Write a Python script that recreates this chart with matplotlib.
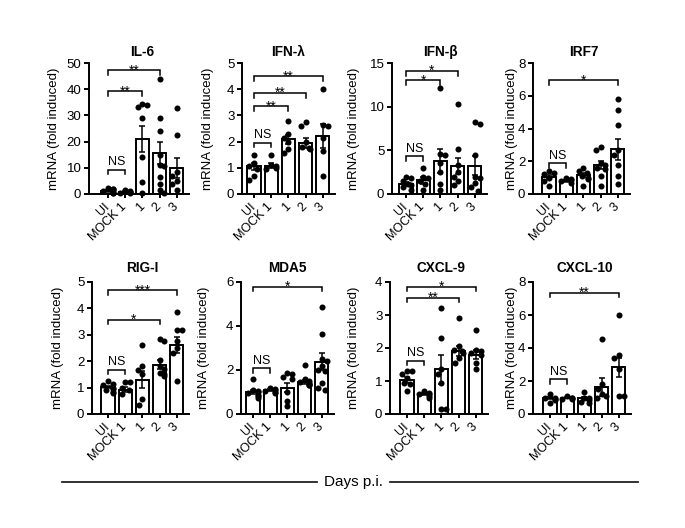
import numpy as np
import matplotlib
matplotlib.use("Agg")
import matplotlib.pyplot as plt
from matplotlib.lines import Line2D

plt.rcParams['font.family'] = ['Liberation Sans', 'DejaVu Sans']

categories = ["UI", "MOCK 1", "1", "2", "3"]

# ---------------- data ----------------
il6_mean = [1.1, 0.8, 21.0, 15.6, 9.8]
il6_sem = [0.35, 0.2, 5.0, 4.3, 3.8]
il6_points = [[2.2, 2.0, 1.8, 1.5, 1.0, 0.8, 0.5, 0.2],
              [1.5, 1.0, 0.8, 0.6, 0.4, 0.5],
              [34.5, 33.8, 33.2, 29.0, 14.3, 4.7, 0.2],
              [43.9, 29.0, 23.9, 14.9, 11.1, 10.5, 6.6, 4.0, 1.5, 0.5],
              [33.0, 22.6, 8.5, 7.0, 5.0, 3.8, 1.5]]
il6_ticks = [0, 10, 20, 30, 40, 50]
il6_sig = [(0, 1, 9.2, "NS"), (0, 2, 39.2, "**"), (0, 3, 47.2, "**")]

ifnl_mean = [1.05, 1.08, 2.09, 1.94, 2.22]
ifnl_sem = [0.12, 0.1, 0.18, 0.2, 0.45]
ifnl_points = [[1.5, 1.2, 1.05, 0.95, 0.7, 0.55],
               [1.5, 1.1, 1.05, 1.0, 0.95],
               [2.8, 2.3, 2.15, 2.0, 1.7, 1.55],
               [2.75, 2.6, 2.0, 1.8, 1.7, 1.75],
               [4.0, 2.65, 2.6, 2.15, 1.65, 0.7]]
ifnl_ticks = [0, 1, 2, 3, 4, 5]
ifnl_sig = [(0, 1, 1.96, "NS"), (0, 2, 3.34, "**"), (0, 3, 3.85, "**"), (0, 4, 4.49, "**")]

ifnb_mean = [1.15, 1.6, 3.8, 3.2, 3.25]
ifnb_sem = [0.25, 0.4, 1.4, 0.9, 1.05]
ifnb_points = [[2.0, 1.8, 1.5, 1.2, 1.0, 0.8, 0.5],
               [3.0, 2.0, 1.8, 1.5, 1.2, 0.5],
               [12.1, 4.6, 4.5, 3.5, 2.5, 1.2, 0.5],
               [10.3, 5.1, 3.3, 2.5, 2.0, 1.5, 1.0],
               [8.3, 8.0, 4.5, 2.0, 1.8, 1.3, 0.8, 0.4]]
ifnb_ticks = [0, 5, 10, 15]
ifnb_sig = [(0, 1, 4.3, "NS"), (0, 2, 13.0, "*"), (0, 3, 14.06, "*")]

irf7_mean = [1.06, 0.82, 1.16, 1.78, 2.73]
irf7_sem = [0.12, 0.06, 0.12, 0.25, 0.65]
irf7_points = [[1.4, 1.3, 1.2, 1.0, 0.8, 0.5],
               [1.0, 0.9, 0.85, 0.8, 0.7],
               [1.6, 1.4, 1.3, 1.1, 1.0, 0.9, 0.5],
               [2.9, 2.7, 1.9, 1.8, 1.6, 1.5, 1.1, 0.5],
               [5.8, 5.1, 4.2, 2.7, 2.4, 1.8, 1.1, 0.6]]
irf7_ticks = [0, 2, 4, 6, 8]
irf7_sig = [(0, 1, 1.88, "NS"), (0, 4, 6.94, "*")]

rigi_mean = [1.02, 0.92, 1.3, 1.87, 2.6]
rigi_sem = [0.05, 0.09, 0.33, 0.17, 0.3]
rigi_points = [[1.25, 1.15, 1.1, 1.0, 0.95, 0.9, 0.85, 0.8],
               [1.2, 1.2, 1.0, 0.9, 0.75],
               [2.6, 1.8, 1.65, 1.5, 0.55, 0.35],
               [2.85, 2.75, 2.05, 1.8, 1.7, 1.55, 1.5, 1.45],
               [3.85, 3.2, 3.2, 2.75, 2.5, 2.3, 1.25]]
rigi_ticks = [0, 1, 2, 3, 4, 5]
rigi_sig = [(0, 1, 1.68, "NS"), (0, 3, 3.57, "*"), (0, 4, 4.68, "***")]

mda5_mean = [1.0, 1.1, 1.2, 1.45, 2.38]
mda5_sem = [0.09, 0.04, 0.22, 0.1, 0.4]
mda5_points = [[1.6, 1.1, 1.05, 1.0, 0.95, 0.85, 0.8, 0.75],
               [1.2, 1.15, 1.1, 1.05, 1.0, 0.95],
               [1.85, 1.8, 1.7, 1.6, 1.0, 0.6, 0.35],
               [2.25, 1.6, 1.5, 1.45, 1.4, 1.35, 1.3, 1.3],
               [4.85, 3.65, 2.5, 2.4, 2.2, 2.0, 1.95, 1.4, 1.2, 1.1]]
mda5_ticks = [0, 2, 4, 6]
mda5_sig = [(0, 1, 2.09, "NS"), (0, 4, 5.78, "*")]

cxcl9_mean = [1.03, 0.6, 1.35, 1.9, 1.8]
cxcl9_sem = [0.1, 0.03, 0.43, 0.15, 0.13]
cxcl9_points = [[1.3, 1.3, 1.2, 1.1, 0.95, 0.9, 0.7],
                [0.7, 0.65, 0.6, 0.6, 0.55, 0.5],
                [3.2, 2.3, 1.35, 1.2, 0.95, 0.15, 0.15],
                [2.9, 2.05, 1.95, 1.9, 1.85, 1.7, 1.55],
                [2.55, 1.95, 1.9, 1.85, 1.8, 1.55, 1.35]]
cxcl9_ticks = [0, 1, 2, 3, 4]
cxcl9_sig = [(0, 1, 1.62, "NS"), (0, 3, 3.52, "**"), (0, 4, 3.85, "*")]

cxcl10_mean = [0.98, 0.98, 0.95, 1.65, 2.82]
cxcl10_sem = [0.08, 0.04, 0.1, 0.55, 0.6]
cxcl10_points = [[1.2, 1.0, 0.95, 0.9, 0.85, 0.65],
                 [1.1, 1.0, 0.95, 0.9, 0.9],
                 [1.35, 1.0, 0.95, 0.85, 0.7, 0.65],
                 [4.57, 1.8, 1.5, 1.2, 1.1, 1.0],
                 [6.0, 3.6, 3.4, 2.7, 1.1, 1.1]]
cxcl10_ticks = [0, 2, 4, 6, 8]
cxcl10_sig = [(0, 1, 2.1, "NS"), (0, 4, 7.35, "**")]

titles = ["IL-6", "IFN-λ", "IFN-β", "IRF7", "RIG-I", "MDA5", "CXCL-9", "CXCL-10"]
xlabel_text = "Days p.i."
ylabel_text = "mRNA (fold induced)"

panels = [
    (il6_mean, il6_sem, il6_points, il6_ticks, il6_sig),
    (ifnl_mean, ifnl_sem, ifnl_points, ifnl_ticks, ifnl_sig),
    (ifnb_mean, ifnb_sem, ifnb_points, ifnb_ticks, ifnb_sig),
    (irf7_mean, irf7_sem, irf7_points, irf7_ticks, irf7_sig),
    (rigi_mean, rigi_sem, rigi_points, rigi_ticks, rigi_sig),
    (mda5_mean, mda5_sem, mda5_points, mda5_ticks, mda5_sig),
    (cxcl9_mean, cxcl9_sem, cxcl9_points, cxcl9_ticks, cxcl9_sig),
    (cxcl10_mean, cxcl10_sem, cxcl10_points, cxcl10_ticks, cxcl10_sig),
]

# ---------------- layout (pixels) ----------------
W, H = 685, 528
SP = 17.2  # px per category
# (y-axis x px, first bar x px, top px, bottom px, ylabel x px, title y px)
layout = [
    (89, 108, 63, 194, 54, 52),
    (242, 254, 63, 194, 208, 52),
    (392, 406, 63, 194, 354, 52),
    (533, 549, 63, 194, 512, 52),
    (92, 108, 282, 414, 58, 268),
    (241, 253, 282, 414, 204, 268),
    (390, 407, 282, 414, 354, 268),
    (533, 550, 282, 414, 512, 268),
]

fig = plt.figure(figsize=(W / 100, H / 100), dpi=100)

LW = 1.4
FS = 9


def beeswarm(vals, yrange, hpx):
    # deterministic horizontal spreading of points that overlap
    order = np.argsort(vals)[::-1]
    cands = [0, -0.2, 0.2, -0.1, 0.1, -0.28, 0.28]
    placed = []
    xs = np.zeros(len(vals))
    dpx = 5.5
    for k in order:
        ypx = vals[k] / yrange * hpx
        for c in cands:
            ok = True
            for (xc, yc) in placed:
                if ((c - xc) * SP) ** 2 + (ypx - yc) ** 2 < dpx ** 2:
                    ok = False
                    break
            if ok:
                break
        xs[k] = c
        placed.append((c, ypx))
    return xs


for idx, ((mean, sem, pts, ticks, sig), lay) in enumerate(zip(panels, layout)):
    axx, uix, top, bot, ylx, ty = lay
    x0 = -(uix - axx) / SP
    x1 = 4.7
    wpx = (x1 - x0) * SP
    ax = fig.add_axes([axx / W, 1 - bot / H, wpx / W, (bot - top) / H])
    ymax = ticks[-1]
    ax.set_xlim(x0, x1)
    ax.set_ylim(0, ymax)
    x = np.arange(len(categories))
    ax.bar(x, mean, width=0.76, color="white", edgecolor="black", linewidth=LW, zorder=2)
    ax.errorbar(x, mean, yerr=sem, fmt="none", ecolor="black", elinewidth=1.1,
                capsize=2.4, capthick=1.1, zorder=3)
    hpx = bot - top
    for i, p in enumerate(pts):
        p = np.array(p, dtype=float)
        offs = beeswarm(p, ymax, hpx)
        ax.scatter(i + offs, p, s=19, color="black", zorder=4, clip_on=False, linewidths=0)
    # significance brackets
    tick_len = 4.5 / hpx * ymax
    for (i, j, yv, lab) in sig:
        ax.plot([i, i, j, j], [yv - tick_len, yv, yv, yv - tick_len], color="black",
                lw=1.1, clip_on=False, zorder=5, solid_joinstyle="miter")
        if lab == "NS":
            ax.text((i + j) / 2, yv + 1.5 / hpx * ymax, lab, ha="center", va="bottom",
                    fontsize=FS, clip_on=False)
        else:
            ax.text((i + j) / 2, yv - 4.0 / hpx * ymax, lab, ha="center", va="baseline",
                    fontsize=10, clip_on=False)
    for s in ["top", "right"]:
        ax.spines[s].set_visible(False)
    for s in ["left", "bottom"]:
        ax.spines[s].set_linewidth(LW)
    ax.set_yticks(ticks)
    ax.set_yticklabels([str(t) for t in ticks], fontsize=9.5)
    ax.set_xticks(x)
    ax.set_xticklabels(categories, fontsize=FS, rotation=45, ha="right",
                       va="center", rotation_mode="anchor")
    ax.tick_params(axis="y", direction="out", length=3.5, width=LW, pad=2)
    ax.tick_params(axis="x", direction="out", length=3.0, width=LW, pad=5)
    # title
    tx = (axx + (2 - x0) * SP) / W
    fig.text(tx, 1 - ty / H, titles[idx], ha="center", va="center", fontsize=9.8,
             fontweight="bold")
    # y label
    fig.text(ylx / W, 1 - ((top + bot) / 2) / H, ylabel_text, rotation=90,
             ha="center", va="center", fontsize=9.5)

# Days p.i. line and text
yl = 1 - 482 / H
fig.add_artist(Line2D([62 / W, 317 / W], [yl, yl], color="#222222", lw=1.3))
fig.add_artist(Line2D([390 / W, 638 / W], [yl, yl], color="#222222", lw=1.3))
fig.text(353 / W, yl, xlabel_text, ha="center", va="center", fontsize=11)

fig.savefig("out.png", dpi=100, facecolor="white")
